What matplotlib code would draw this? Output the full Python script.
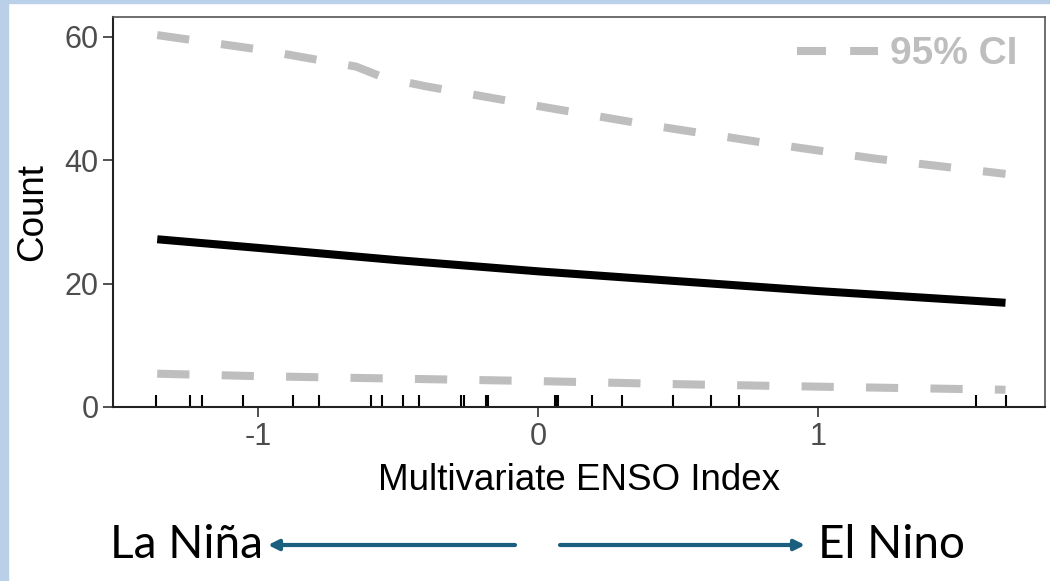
import matplotlib
matplotlib.use("Agg")
import matplotlib.pyplot as plt
from matplotlib.patches import Rectangle
from matplotlib.lines import Line2D

# model fit vs Multivariate ENSO Index
mei_fit = [-1.36, -1.0, -0.5, 0.0, 0.5, 1.0, 1.67]
count_fit = [27.2, 25.8, 23.8, 22.0, 20.4, 18.8, 16.9]

mei_upper = [-1.36, -1.0, -0.75, -0.65, -0.55, -0.4, 0.0, 0.4, 0.8, 1.2, 1.67]
count_upper = [60.3, 58.0, 56.0, 55.2, 53.4, 52.0, 48.8, 45.7, 42.9, 40.3, 37.8]

mei_lower = [-1.36, -1.0, -0.5, 0.0, 0.5, 1.0, 1.67]
count_lower = [5.4, 5.0, 4.6, 4.2, 3.7, 3.3, 2.8]

# observed MEI values (rug)
mei_obs = [-1.365, -1.244, -1.201, -1.054, -0.876, -0.781, -0.595, -0.556,
           -0.482, -0.424, -0.275, -0.265, -0.186, -0.180, 0.060, 0.066,
           0.072, 0.193, 0.301, 0.483, 0.618, 0.719, 1.566, 1.671]

ci_gray = "#bebebe"
arrow_col = "#1b5f80"
border_col = "#b9d0e8"

plt.rcParams["font.family"] = ["Liberation Sans", "DejaVu Sans"]

fig = plt.figure(figsize=(10.5, 5.81), dpi=100)
fig.patches.append(Rectangle((0, 0), 8 / 1050, 1, transform=fig.transFigure,
                             color=border_col, zorder=0))
fig.patches.append(Rectangle((0, 1 - 3 / 581), 1, 3 / 581, transform=fig.transFigure,
                             color=border_col, zorder=0))

ax = fig.add_axes([113 / 1050, 1 - 407 / 581, 932 / 1050, 390 / 581])

ax.plot(mei_upper, count_upper, color=ci_gray, lw=5.8, dashes=(4, 4),
        dash_capstyle="butt")
ax.plot(mei_lower, count_lower, color=ci_gray, lw=5.8, dashes=(4, 4),
        dash_capstyle="butt")
ax.plot(mei_fit, count_fit, color="black", lw=5.8, solid_capstyle="butt")

ax.vlines(mei_obs, 0, 0.031, transform=ax.get_xaxis_transform(),
          color="black", lw=1.5)

ax.set_xlim(-1.518, 1.811)
ax.set_ylim(0, 63.24)
ax.set_xticks([-1, 0, 1])
ax.set_yticks([0, 20, 40, 60])
ax.set_xticklabels(["-1", "0", "1"])
ax.tick_params(labelsize=22, labelcolor="#4d4d4d", color="#333333",
               length=7, width=1.2)
ax.set_xlabel("Multivariate ENSO Index", fontsize=26.5, labelpad=8)
ax.set_ylabel("Count", fontsize=26.5, labelpad=10)

for side in ["top", "right"]:
    ax.spines[side].set_color("#555555")
    ax.spines[side].set_linewidth(1.2)
for side in ["left", "bottom"]:
    ax.spines[side].set_color("#222222")
    ax.spines[side].set_linewidth(1.5)

ci_handle = Line2D([], [], color=ci_gray, lw=5.8, dashes=(3.6, 3.0),
                   dash_capstyle="butt")
ax.legend([ci_handle], ["95% CI"], loc="upper right",
          bbox_to_anchor=(1.008, 1.04), frameon=False,
          handlelength=2.1, handletextpad=0.3, labelcolor=ci_gray,
          prop={"weight": "bold", "size": 28})

# La Niña / El Nino annotation below the plot
fig.text(110 / 1050, 1 - 545 / 581, "La Niña", fontsize=33, family="Lato",
         ha="left", va="center")
fig.text(965 / 1050, 1 - 545 / 581, "El Nino", fontsize=33, family="Lato",
         ha="right", va="center")
ax.annotate("", xy=(268 / 1050, 1 - 545 / 581), xytext=(515 / 1050, 1 - 545 / 581),
            xycoords="figure fraction", textcoords="figure fraction",
            arrowprops=dict(arrowstyle="-|>,head_length=0.6,head_width=0.3",
                            color=arrow_col, lw=3, shrinkA=0, shrinkB=0))
ax.annotate("", xy=(805 / 1050, 1 - 545 / 581), xytext=(560 / 1050, 1 - 545 / 581),
            xycoords="figure fraction", textcoords="figure fraction",
            arrowprops=dict(arrowstyle="-|>,head_length=0.6,head_width=0.3",
                            color=arrow_col, lw=3, shrinkA=0, shrinkB=0))

fig.savefig("out.png", dpi=100)
